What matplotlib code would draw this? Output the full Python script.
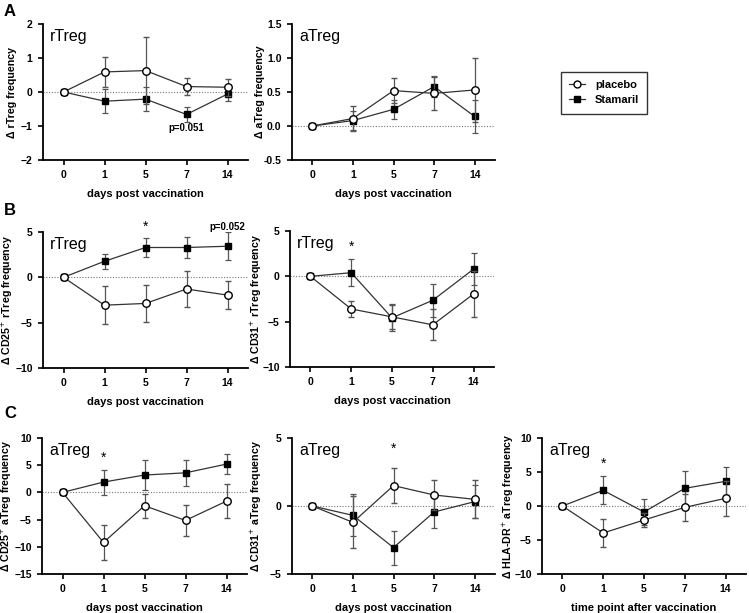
import matplotlib
matplotlib.use("Agg")
import matplotlib.pyplot as plt
from matplotlib.lines import Line2D

plt.rcParams['font.family'] = ['Liberation Sans', 'DejaVu Sans']

days = ["0", "1", "5", "7", "14"]

# A: rTreg / aTreg frequency
a1_placebo = [0, 0.59, 0.63, 0.16, 0.14]
a1_placebo_err = [0, 0.43, 0.98, 0.24, 0.25]
a1_stamaril = [0, -0.27, -0.21, -0.66, -0.06]
a1_stamaril_err = [0, 0.35, 0.35, 0.23, 0.20]

a2_placebo = [0, 0.11, 0.52, 0.48, 0.53]
a2_placebo_err = [0, 0.18, 0.18, 0.24, 0.47]
a2_stamaril = [0, 0.08, 0.245, 0.58, 0.14]
a2_stamaril_err = [0, 0.14, 0.14, 0.15, 0.24]

# B: CD25+ / CD31+ rTreg
b1_placebo = [0, -3.07, -2.88, -1.29, -1.96]
b1_placebo_err = [0, 2.1, 2.0, 2.0, 1.55]
b1_stamaril = [0, 1.77, 3.29, 3.29, 3.43]
b1_stamaril_err = [0, 0.8, 1.1, 1.2, 1.55]

b2_placebo = [0, -3.6, -4.47, -5.35, -1.94]
b2_placebo_err = [0, 0.9, 1.3, 1.7, 2.5]
b2_stamaril = [0, 0.4, -4.58, -2.64, 0.8]
b2_stamaril_err = [0, 1.5, 1.5, 1.8, 1.8]

# C: CD25+ / CD31+ / HLA-DR+ aTreg
c1_placebo = [0, -9.2, -2.45, -5.15, -1.6]
c1_placebo_err = [0, 3.2, 2.2, 2.8, 3.1]
c1_stamaril = [0, 1.9, 3.19, 3.6, 5.2]
c1_stamaril_err = [0, 2.3, 2.7, 2.4, 1.85]

c2_placebo = [0, -1.2, 1.5, 0.81, 0.49]
c2_placebo_err = [0, 1.9, 1.3, 1.13, 1.4]
c2_stamaril = [0, -0.69, -3.06, -0.44, 0.32]
c2_stamaril_err = [0, 1.55, 1.25, 1.2, 1.22]

c3_placebo = [0, -3.97, -2.06, -0.2, 1.13]
c3_placebo_err = [0, 2.0, 1.1, 1.96, 2.6]
c3_stamaril = [0, 2.3, -0.88, 2.6, 3.63]
c3_stamaril_err = [0, 2.06, 1.86, 2.6, 2.06]

W, H = 749, 613
fig = plt.figure(figsize=(W / 100, H / 100), dpi=100)

LINE = '#333333'
ERR = '#555555'


def make_axes(x0, x1, top, bottom, label_x):
    # label_x: right edge of the rotated y label, in pixels
    ax = fig.add_axes([x0 / W, 1 - bottom / H, (x1 - x0) / W, (bottom - top) / H])
    ax._label_frac = (label_x - x0) / (x1 - x0)
    return ax


def draw_panel(ax, title, placebo, placebo_err, stamaril, stamaril_err,
               ylim, yticks, ylabel, xlabel="days post vaccination"):
    x = list(range(len(days)))
    ax.axhline(0, color='#777777', lw=0.8, ls=(0, (1, 1.5)), zorder=1)
    ax.errorbar(x, stamaril, yerr=stamaril_err, color=LINE, ecolor=ERR,
                elinewidth=0.9, capsize=2.2, capthick=0.9, lw=0.9,
                marker='s', ms=5, mfc='black', mec='black', zorder=3)
    ax.errorbar(x, placebo, yerr=placebo_err, color=LINE, ecolor=ERR,
                elinewidth=0.9, capsize=2.2, capthick=0.9, lw=0.9,
                marker='o', ms=5.4, mfc='white', mec='black', mew=1.0, zorder=4)
    ax.set_xlim(-0.5, 4.5)
    ax.set_ylim(*ylim)
    ax.set_yticks(yticks)
    ax.set_xticks(x)
    ax.set_xticklabels(days)
    ax.spines['top'].set_visible(False)
    ax.spines['right'].set_visible(False)
    for s in ('left', 'bottom'):
        ax.spines[s].set_linewidth(1.3)
    ax.tick_params(direction='out', length=3.5, width=1.2, labelsize=7.5, pad=4)
    for lab in ax.get_xticklabels() + ax.get_yticklabels():
        lab.set_fontweight('bold')
    ax.set_xlabel(xlabel, fontsize=8, fontweight='bold', labelpad=6)
    ax.set_ylabel(ylabel, fontsize=7.7, fontweight='bold')
    ax.yaxis.set_label_coords(ax._label_frac, 0.5)
    ax.text(0.035, 0.96, title, transform=ax.transAxes, fontsize=11.5,
            ha='left', va='top')


# Row A
ax = make_axes(43, 248, 24, 160, 17)
draw_panel(ax, "rTreg", a1_placebo, a1_placebo_err, a1_stamaril, a1_stamaril_err,
           (-2, 2), [-2, -1, 0, 1, 2], "Δ rTreg frequency")
ax.text(3, -1.06, "p=0.051", ha='center', va='center', fontsize=7, fontweight='bold')

ax = make_axes(292, 495, 24, 160, 265)
draw_panel(ax, "aTreg", a2_placebo, a2_placebo_err, a2_stamaril, a2_stamaril_err,
           (-0.5, 1.5), [-0.5, 0.0, 0.5, 1.0, 1.5], "Δ aTreg frequency")
ax.set_yticklabels(["-0.5", "0.0", "0.5", "1.0", "1.5"], fontweight='bold')

# Row B
ax = make_axes(43, 248, 232, 368, 15)
draw_panel(ax, "rTreg", b1_placebo, b1_placebo_err, b1_stamaril, b1_stamaril_err,
           (-10, 5), [-10, -5, 0, 5], "Δ CD25$^{+}$ rTreg frequency")
ax.text(2, 5.6, "*", ha='center', va='center', fontsize=10, clip_on=False)
ax.text(4, 5.5, "p=0.052", ha='center', va='center', fontsize=7, fontweight='bold',
        clip_on=False)

ax = make_axes(290, 494, 231, 367, 264)
draw_panel(ax, "rTreg", b2_placebo, b2_placebo_err, b2_stamaril, b2_stamaril_err,
           (-10, 5), [-10, -5, 0, 5], "Δ CD31$^{+}$ rTreg frequency")
ax.text(1, 3.3, "*", ha='center', va='center', fontsize=10)

# Row C
ax = make_axes(42, 247, 438, 574, 14)
draw_panel(ax, "aTreg", c1_placebo, c1_placebo_err, c1_stamaril, c1_stamaril_err,
           (-15, 10), [-15, -10, -5, 0, 5, 10], "Δ CD25$^{+}$ aTreg frequency")
ax.text(1, 6.4, "*", ha='center', va='center', fontsize=10)

ax = make_axes(292, 495, 438, 574, 264)
draw_panel(ax, "aTreg", c2_placebo, c2_placebo_err, c2_stamaril, c2_stamaril_err,
           (-5, 5), [-5, 0, 5], "Δ CD31$^{+}$ aTreg frequency")
ax.text(2, 4.2, "*", ha='center', va='center', fontsize=10)

ax = make_axes(542, 746, 438, 574, 516)
draw_panel(ax, "aTreg", c3_placebo, c3_placebo_err, c3_stamaril, c3_stamaril_err,
           (-10, 10), [-10, -5, 0, 5, 10], "Δ HLA-DR$^{+}$ aTreg frequency",
           xlabel="time point after vaccination")
ax.text(1, 6.2, "*", ha='center', va='center', fontsize=10)

# panel letters
for letter, ypx in (("A", 12), ("B", 210), ("C", 414)):
    fig.text(4 / W, 1 - ypx / H, letter, fontsize=12, fontweight='bold',
             ha='left', va='center')

# legend
handles = [
    Line2D([], [], color=LINE, lw=0.9, marker='o', ms=5, mfc='white', mec='black'),
    Line2D([], [], color=LINE, lw=0.9, marker='s', ms=4.5, mfc='black', mec='black'),
]
leg = fig.legend(handles, ["placebo", "Stamaril"], loc='upper left',
                 bbox_to_anchor=(561 / W, 1 - 72 / H), borderaxespad=0,
                 frameon=True, fancybox=False, edgecolor='black', fontsize=8,
                 handlelength=1.4, handletextpad=0.9, borderpad=0.75,
                 labelspacing=0.45)
leg.get_frame().set_linewidth(1.0)
for t in leg.get_texts():
    t.set_fontweight('bold')

plt.savefig('out.png', dpi=100)
